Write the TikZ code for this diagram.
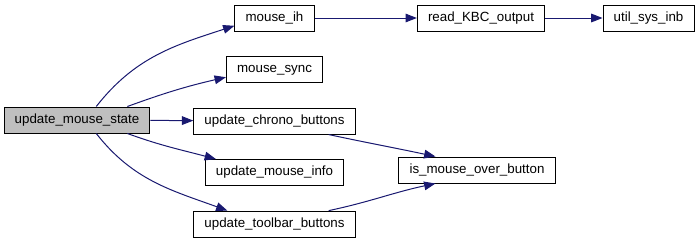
\documentclass[tikz,border=0pt]{standalone}
\usepackage{fontspec}
\setmainfont{Liberation Sans}
\usetikzlibrary{positioning}
\usetikzlibrary{arrows.meta}
\definecolor{edgeblue}{HTML}{191970}
\definecolor{callergray}{HTML}{BFBFBF}
\tikzstyle{line} = [draw, edgeblue, line width=0.75pt, -{Triangle[length=8.5pt, width=6.5pt]}]

\begin{document}
\begin{tikzpicture}[x=0.75pt, y=0.75pt,
				fn/.style={draw, rectangle, line width=0.75pt, minimum height=19.5pt, inner xsep=8pt, inner ysep=0pt,
					text height=7.2pt, text depth=2.2pt, font=\fontsize{10}{12}\selectfont}]

				\useasboundingbox (0,0) rectangle (699,240);

				\node (ums) at (77, 120) [fn, fill=callergray] {update\_mouse\_state};

				% callees of update_mouse_state, one column
				\node (mih) at (274.5, 222) [fn] {mouse\_ih};
				\node[below=18.4pt of mih] (ms) [fn] {mouse\_sync};
				\node[below=18.4pt of ms] (ucb) [fn] {update\_chrono\_buttons};
				\node[below=18.4pt of ucb] (umi) [fn] {update\_mouse\_info};
				\node[below=18.4pt of umi] (utb) [fn] {update\_toolbar\_buttons};

				\node (rkbc) at (481, 222) [fn] {read\_KBC\_output};
				\node (usi) at (648.5, 222) [fn] {util\_sys\_inb};
				\node (imob) at (477, 70) [fn] {is\_mouse\_over\_button};

				\draw [line] (ums.35) to[out=52, in=198] (mih.191);
				\draw [line] (ums.15) to[out=20, in=193] (ms.189);
				\draw [line] (ums) -- (ucb);
				\draw [line] (ums.-15) to[out=-20, in=165] (umi.167);
				\draw [line] (ums.-35) to[out=-52, in=160] (utb.164);

				\draw [line] (mih) -- (rkbc);
				\draw [line] (rkbc) -- (usi);

				\draw [line] (ucb.-14) to[out=-12, in=168] (imob.162);
				\draw [line] (utb.14) to[out=12, in=192] (imob.198);

			\end{tikzpicture}
\end{document}
